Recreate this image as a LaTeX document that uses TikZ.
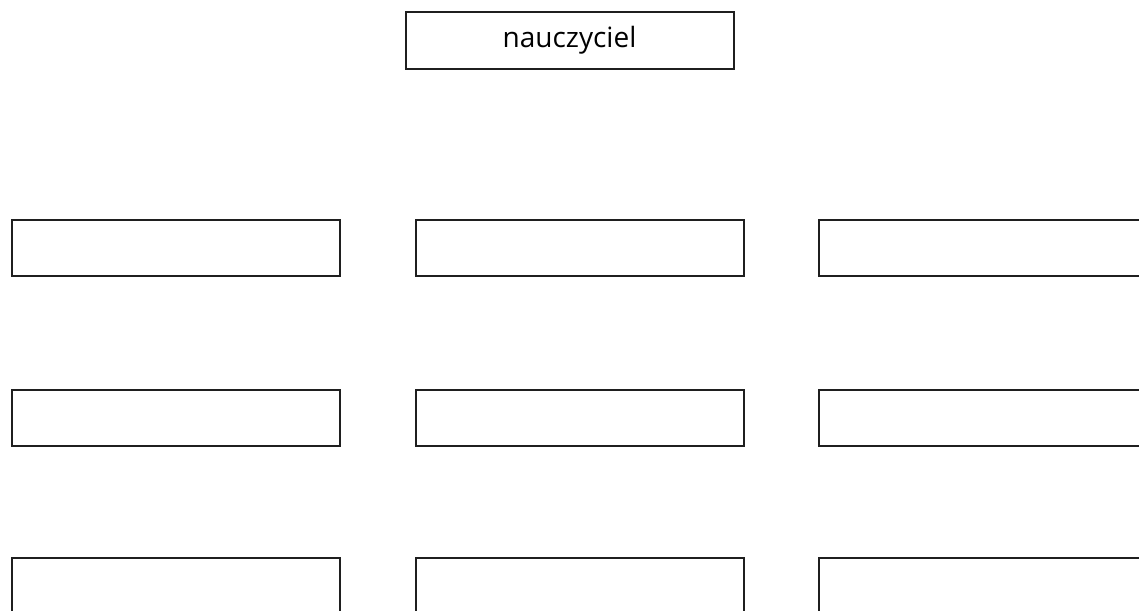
\documentclass[tikz,border=0pt]{standalone}
\usepackage{fontspec}
\setmainfont{Open Sans}
\begin{document}
\begin{tikzpicture}[x=1pt,y=-1pt,
  box/.style={draw=black!88, line width=2pt, minimum width=328pt, minimum height=56pt, inner sep=0pt, anchor=north west, font=\fontsize{28}{32}\selectfont}]
\useasboundingbox (0,0) rectangle (1139,610);
\clip (0,0) rectangle (1139,610);
\fill[white] (0,0) rectangle (1139,610);
\node[box] (top) at (404.5,11.5) {nauczyciel};
\node[box] (a1) at (10.5,218.5) {};
\node[box] (b1) at (414.5,218.5) {};
\node[box] (c1) at (817.5,218.5) {};
\node[box] (a2) at (10.5,388.5) {};
\node[box] (b2) at (414.5,388.5) {};
\node[box] (c2) at (817.5,388.5) {};
\node[box] (a3) at (10.5,556.5) {};
\node[box] (b3) at (414.5,556.5) {};
\node[box] (c3) at (817.5,556.5) {};
\end{tikzpicture}
\end{document}
